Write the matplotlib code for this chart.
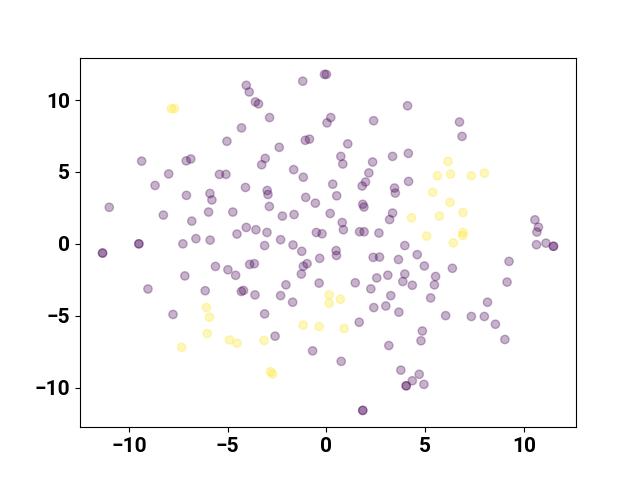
import matplotlib.pyplot as plt
import numpy as np

# embedding coordinates, class 0 = purple, class 1 = yellow
purple_x = [-4.06, -3.91, -3.60, -3.44, -1.20, -0.10, 0.00, -4.30, -5.04, -9.36,
            -7.10, -6.87, -7.99, -5.42, -5.09, -8.68, -4.10, -7.09, -5.90, -5.80,
            -11.00, -8.26, -5.97, -4.74, -6.82, -4.06, -4.53, -9.50, -9.50, -7.27,
            -6.61, -5.89, -11.34, -11.34, -5.62, -4.99, -4.60, -3.89, -7.17, -9.04,
            -6.14, -4.31, -4.20, -7.77, -2.88, 4.11, 2.39, 0.22, 0.03, -1.07,
            -0.86, 1.08, -2.39, -3.10, -3.28, 0.73, 0.83, 3.35, 4.15, 2.34,
            -1.66, -1.17, 2.15, 0.32, 1.98, 1.81, 4.16, -3.00, -2.96, 0.52,
            -1.05, 3.45, 3.49, -0.56, -2.89, 1.84, 1.90, -2.23, -1.64, 0.19,
            3.35, 3.20, 0.80, 0.86, -3.57, -3.01, -0.51, -0.22, 1.68, 1.91,
            2.66, -2.32, -3.13, -1.69, 3.97, -1.25, 0.49, 0.51, -3.65, -1.17,
            -0.98, -0.34, -1.27, 2.37, 2.69, 3.65, 4.60, 2.55, 3.11, 3.97,
            3.87, 4.35, -2.05, -0.37, 1.46, 2.25, -3.62, -2.32, -1.71, 3.26,
            2.40, 3.01, 3.67, -3.13, 1.66, -2.60, -0.70, 3.16, 0.75, 3.77,
            4.35, 4.04, 4.04, 1.84, 1.84, 10.64, 11.12, 11.50, 11.50, 4.96,
            6.38, 9.25, 5.53, 5.47, 9.15, 5.28, 8.16, 6.04, 7.34, 8.00,
            8.56, 4.86, 4.79, 9.04, 4.70, 4.94, 6.74, 6.87, 10.56, 10.74,
            10.66]
purple_y = [11.02, 10.56, 9.87, 9.73, 11.31, 11.78, 11.78, 8.06, 7.13, 5.75,
            5.77, 5.90, 4.86, 4.83, 4.83, 4.06, 3.92, 3.37, 3.50, 3.05,
            2.54, 2.00, 2.21, 2.21, 1.58, 1.14, 0.68, 0.00, 0.00, 0.00,
            0.36, 0.26, -0.64, -0.64, -1.57, -1.80, -2.19, -1.43, -2.23, -3.14,
            -3.26, -3.31, -3.24, -4.91, 8.78, 9.60, 8.56, 8.78, 8.41, 7.20,
            7.28, 6.95, 6.71, 5.94, 5.50, 6.08, 5.55, 6.08, 6.29, 5.69,
            5.16, 4.63, 4.93, 4.15, 4.30, 4.02, 4.34, 3.71, 3.43, 3.34,
            3.23, 3.88, 3.53, 2.83, 2.60, 2.75, 2.56, 1.93, 2.04, 2.11,
            2.14, 1.69, 1.48, 0.98, 0.98, 0.79, 0.79, 0.70, 0.84, 0.84,
            0.75, 0.29, -0.12, -0.08, -0.12, -0.52, -0.47, -0.81, -1.38, -1.56,
            -1.38, -1.01, -2.10, -0.94, -0.92, -1.09, -0.75, -2.37, -2.18, -2.10,
            -2.62, -2.88, -2.85, -2.73, -2.71, -3.13, -3.55, -3.60, -4.06, -3.60,
            -4.43, -4.32, -4.75, -4.87, -5.45, -6.42, -7.44, -7.07, -8.17, -8.78,
            -9.52, -9.87, -9.87, -11.58, -11.58, -0.06, 0.05, -0.17, -0.17, -1.54,
            -1.70, -1.22, -2.27, -2.85, -2.66, -3.76, -4.06, -4.99, -5.05, -5.05,
            -5.59, -6.06, -6.74, -6.65, -9.07, -9.77, 8.47, 7.47, 1.67, 1.16,
            0.82]
yellow_x = [-7.85, -7.70, -6.08, -5.92, -6.04, -4.91, -4.53, -7.33, 4.31, 0.14,
            0.14, 0.71, -1.18, -0.37, 0.90, -3.16, -2.83, -2.73, 6.43, 6.16,
            5.62, 6.29, 7.34, 8.00, 5.38, 6.26, 5.72, 6.92, 5.08, 6.92,
            6.90]
yellow_y = [9.40, 9.40, -4.43, -5.10, -6.24, -6.68, -6.91, -7.19, 1.81, -3.55,
            -4.13, -3.85, -5.65, -5.75, -5.89, -6.72, -8.89, -9.05, 0.07, 5.73,
            4.73, 4.85, 4.73, 4.92, 3.58, 2.88, 1.93, 2.18, 0.54, 0.79,
            0.58]

x = np.array(purple_x + yellow_x)
y = np.array(purple_y + yellow_y)
labels = np.array([0] * len(purple_x) + [1] * len(yellow_x))

plt.rcParams['font.family'] = ['Roboto', 'DejaVu Sans']

fig = plt.figure(figsize=(6.4, 4.8), dpi=100)
plt.scatter(x, y, c=labels, cmap='viridis', alpha=0.3)
plt.xticks(fontsize=15, fontweight='bold')
plt.yticks(fontsize=15, fontweight='bold')
fig.savefig('out.png')
